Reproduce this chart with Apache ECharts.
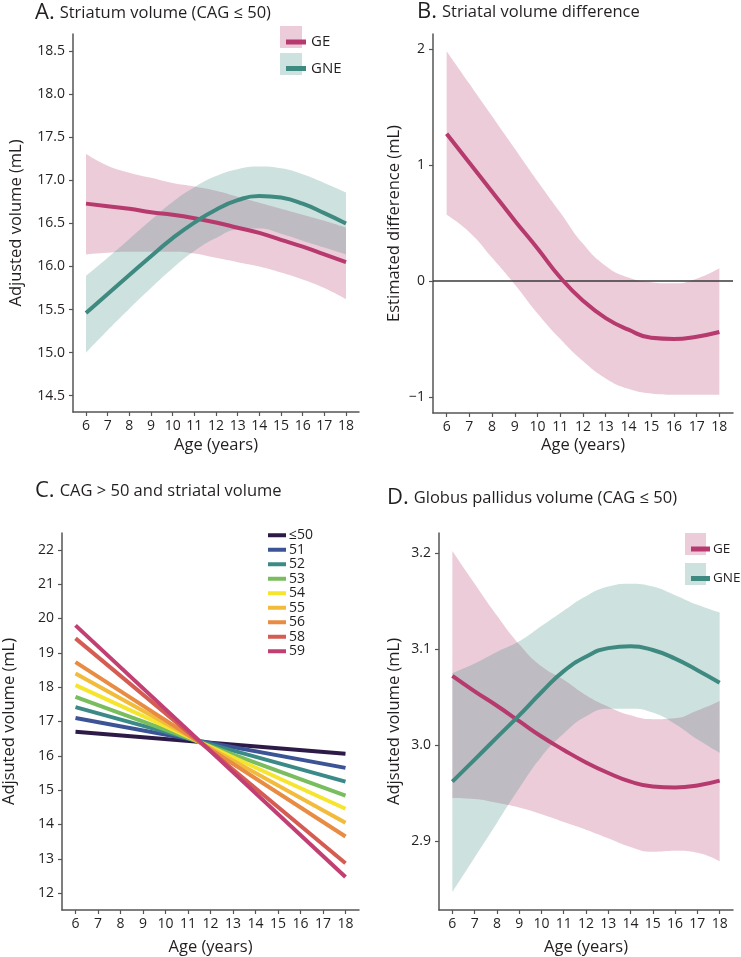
<!DOCTYPE html>
<html>
<head>
<meta charset="utf-8">
<script src="https://cdn.jsdelivr.net/npm/echarts@6/dist/echarts.min.js"></script>
<style>
html,body{margin:0;padding:0;background:#fff;}
#chart{width:741px;height:957px;}
</style>
</head>
<body>
<div id="chart"></div>
<script>
// ---------- data ----------
const ages = [6,7,8,9,10,11,12,13,14,15,16,17,18];
const xTicks = [6,7,8,9,10,11,12,13,14,15,16,17,18];

// Panel A: striatum volume (CAG <= 50)
const A_GE_fit = [16.73,16.70,16.67,16.63,16.60,16.56,16.51,16.45,16.39,16.31,16.23,16.14,16.05];
const A_GE_lo  = [16.14,16.16,16.17,16.17,16.17,16.15,16.10,16.05,16.00,15.93,15.85,15.75,15.62];
const A_GE_hi  = [17.31,17.17,17.09,17.03,16.97,16.93,16.88,16.81,16.74,16.67,16.60,16.53,16.45];
const A_GNE_fit = [15.46,15.68,15.90,16.12,16.33,16.51,16.66,16.77,16.82,16.80,16.73,16.62,16.50];
const A_GNE_lo  = [15.00,15.26,15.51,15.75,15.98,16.18,16.33,16.43,16.44,16.38,16.30,16.22,16.14];
const A_GNE_hi  = [15.89,16.10,16.32,16.54,16.75,16.92,17.05,17.13,17.16,17.14,17.07,16.97,16.86];
const A_yTicks = [14.5,15.0,15.5,16.0,16.5,17.0,17.5,18.0,18.5];

// Panel B: striatal volume difference
const B_fit = [1.27,1.02,0.77,0.52,0.28,0.03,-0.17,-0.32,-0.42,-0.49,-0.50,-0.48,-0.44];
const B_lo  = [0.57,0.42,0.20,-0.03,-0.28,-0.50,-0.69,-0.84,-0.93,-0.97,-0.98,-0.98,-0.98];
const B_hi  = [1.98,1.70,1.42,1.14,0.86,0.59,0.32,0.13,0.03,-0.01,-0.02,0.02,0.11];
const B_yTicks = [-1,0,1,2];

// Panel C: CAG > 50 and striatal volume
const C_groups = ['≤50','51','52','53','54','55','56','58','59'];
const C_ages = [6,18];
const C_at6  = [16.70,17.10,17.42,17.72,18.06,18.40,18.73,19.42,19.80];
const C_at18 = [16.06,15.65,15.25,14.84,14.46,14.05,13.65,12.87,12.47];
const C_yTicks = [12,13,14,15,16,17,18,19,20,21,22];

// Panel D: globus pallidus volume (CAG <= 50)
const D_GE_fit = [3.072,3.056,3.041,3.025,3.009,2.995,2.982,2.971,2.962,2.957,2.956,2.958,2.963];
const D_GE_lo  = [2.945,2.944,2.940,2.935,2.928,2.920,2.912,2.903,2.894,2.889,2.890,2.888,2.879];
const D_GE_hi  = [3.202,3.168,3.135,3.105,3.082,3.068,3.052,3.040,3.031,3.027,3.028,3.036,3.046];
const D_GNE_fit = [2.962,2.985,3.008,3.031,3.055,3.077,3.092,3.101,3.103,3.099,3.090,3.078,3.065];
const D_GNE_lo  = [2.847,2.883,2.919,2.955,2.988,3.012,3.030,3.038,3.038,3.034,3.022,3.006,2.992];
const D_GNE_hi  = [3.075,3.085,3.097,3.108,3.124,3.140,3.155,3.165,3.168,3.165,3.156,3.146,3.138];
const D_yTicks = [2.9,3.0,3.1,3.2];

// ---------- styles ----------
const FONT = "'Open Sans', 'DejaVu Sans', sans-serif";
const TXT = '#231f20';
const AX = '#555555';
const GE_C = '#b63a6e';
const GNE_C = '#3f8a80';
const GE_BAND = 'rgba(182,58,110,0.26)';
const GNE_BAND = 'rgba(62,138,128,0.26)';
const C_COLORS = ['#2e1a47','#3c5496','#3c8a88','#79bd5f','#f5e52e','#f2bb3b','#e88b43','#d55c53','#c13f72'];

function pairs(xs, ys){ return xs.map((a,i)=>[a, ys[i]]); }
// value first, age second (so stacking applies to the value dimension)
function yx(ys){ return ages.map((a,i)=>[ys[i], a]); }
function yxDiff(lo, hi){ return ages.map((a,i)=>[hi[i]-lo[i], a]); }

function xAxis(idx, nameGap){
  return {
    gridIndex: idx, type:'value', min:5.4, max:18.6,
    name:'Age (years)', nameLocation:'middle', nameGap:nameGap,
    nameTextStyle:{fontFamily:FONT, fontSize:16.5, color:TXT},
    axisLine:{show:true, onZero:false, lineStyle:{color:AX, width:1.5}},
    axisTick:{show:true, length:4, customValues:xTicks, lineStyle:{color:AX, width:1.2}},
    axisLabel:{customValues:xTicks, fontFamily:FONT, fontSize:14, color:TXT, margin:7},
    splitLine:{show:false}
  };
}
function yAxis(idx, min, max, ticks, name, nameGap, fmt){
  return {
    gridIndex: idx, type:'value', min:min, max:max,
    name:name, nameLocation:'middle', nameGap:nameGap,
    nameTextStyle:{fontFamily:FONT, fontSize:16.5, color:TXT},
    axisLine:{show:true, onZero:false, lineStyle:{color:AX, width:1.5}},
    axisTick:{show:true, length:4, customValues:ticks, lineStyle:{color:AX, width:1.2}},
    axisLabel:{customValues:ticks, fontFamily:FONT, fontSize:14, color:TXT, margin:8, formatter:fmt},
    splitLine:{show:false}
  };
}
function band(idx, id, lo, hi, color){
  return [
    {type:'line', xAxisIndex:idx, yAxisIndex:idx, data:yx(lo), encode:{x:1, y:0}, stack:id, stackStrategy:'all',
     symbol:'none', smooth:true, lineStyle:{opacity:0}, silent:true, z:1},
    {type:'line', xAxisIndex:idx, yAxisIndex:idx, data:yxDiff(lo, hi), encode:{x:1, y:0}, stack:id, stackStrategy:'all',
     symbol:'none', smooth:true, lineStyle:{opacity:0}, areaStyle:{color:color, opacity:1}, silent:true, z:1}
  ];
}
function fit(idx, name, ys, color){
  return {type:'line', name:name, xAxisIndex:idx, yAxisIndex:idx, data:pairs(ages, ys), color:color,
    symbol:'none', smooth:true, lineStyle:{color:color, width:4}, silent:true, z:3};
}
const f1 = v => v.toFixed(1);

const series = [];
// A
series.push(...band(0,'aGE',A_GE_lo,A_GE_hi,GE_BAND));
series.push(...band(0,'aGNE',A_GNE_lo,A_GNE_hi,GNE_BAND));
series.push(fit(0,'GE',A_GE_fit,GE_C));
series.push(fit(0,'GNE',A_GNE_fit,GNE_C));
// B
series.push(...band(1,'bD',B_lo,B_hi,GE_BAND));
const bFit = fit(1,'Difference',B_fit,GE_C);
bFit.markLine = {silent:true, symbol:'none', label:{show:false},
  lineStyle:{color:'#3a3a3a', width:1.6, type:'solid'}, data:[{yAxis:0}], z:2};
series.push(bFit);
// C
C_groups.forEach((g,i)=>{
  series.push({type:'line', name:g, xAxisIndex:2, yAxisIndex:2, data:pairs(C_ages,[C_at6[i],C_at18[i]]),
    color:C_COLORS[i], symbol:'none', lineStyle:{color:C_COLORS[i], width:4}, silent:true, z:3});
});
// D
series.push(...band(3,'dGE',D_GE_lo,D_GE_hi,GE_BAND));
series.push(...band(3,'dGNE',D_GNE_lo,D_GNE_hi,GNE_BAND));
series.push(fit(3,'GE',D_GE_fit,GE_C));
series.push(fit(3,'GNE',D_GNE_fit,GNE_C));

function ttl(letter, text, left, top){
  return {text:'{a|'+letter+'} {b|'+text+'}', left:left, top:top,
    textStyle:{fontWeight:'normal', rich:{
      a:{fontFamily:FONT, fontSize:22, fontWeight:'normal', color:TXT},
      b:{fontFamily:FONT, fontSize:16.5, fontWeight:'normal', color:TXT}}}};
}

const option = {
  animation:false,
  backgroundColor:'#fff',
  title:[
    ttl('A.','Striatum volume (CAG ≤ 50)',30,-3),
    ttl('B.','Striatal volume difference',412,-4),
    ttl('C.','CAG > 50 and striatal volume',30,475),
    ttl('D.','Globus pallidus volume (CAG ≤ 50)',382,482)
  ],
  grid:[
    {left:73, top:34, width:286, height:378},
    {left:433, top:34, width:300, height:379},
    {left:61, top:533, width:298, height:378},
    {left:439, top:533, width:294, height:378}
  ],
  xAxis:[xAxis(0,25), xAxis(1,24), xAxis(2,29), xAxis(3,29)],
  yAxis:[
    yAxis(0,14.31,18.70,A_yTicks,'Adjusted volume (mL)',48,f1),
    yAxis(1,-1.138,2.129,B_yTicks,'Estimated difference (mL)',30,v=>String(v).replace('-','\u2212')),
    yAxis(2,11.51,22.49,C_yTicks,'Adjsuted volume (mL)',44,v=>String(v)),
    yAxis(3,2.8284,3.2208,D_yTicks,'Adjsuted volume (mL)',36,f1)
  ],
  legend:[
    {data:['GE','GNE'], left:281, top:26, orient:'vertical', icon:'rect', itemWidth:20, itemHeight:5,
     itemGap:4.5, selectedMode:false, textStyle:{fontFamily:FONT, fontSize:15, color:TXT, lineHeight:22}},
    {data:C_groups, left:263, top:523, orient:'vertical', icon:'rect', itemWidth:18, itemHeight:4,
     itemGap:0, selectedMode:false, textStyle:{fontFamily:FONT, fontSize:14, color:TXT, lineHeight:14.5, padding:[0,0,0,-2]}},
    {data:['GE','GNE'], left:686, top:533, orient:'vertical', icon:'rect', itemWidth:19, itemHeight:5,
     itemGap:7.5, selectedMode:false, textStyle:{fontFamily:FONT, fontSize:13.5, color:TXT, lineHeight:22, padding:[0,0,0,-2]}}
  ],
  graphic:[
    {type:'rect', shape:{x:280, y:26, width:22, height:22}, style:{fill:GE_BAND}, z:-1},
    {type:'rect', shape:{x:280, y:53, width:22, height:22}, style:{fill:GNE_BAND}, z:-1},
    {type:'rect', shape:{x:685, y:533, width:21, height:22}, style:{fill:GE_BAND}, z:-1},
    {type:'rect', shape:{x:685, y:563, width:21, height:22}, style:{fill:GNE_BAND}, z:-1}
  ],
  series:series
};

const chart = echarts.init(document.getElementById('chart'), null, {renderer:'canvas'});
chart.setOption(option);
</script>
</body>
</html>
